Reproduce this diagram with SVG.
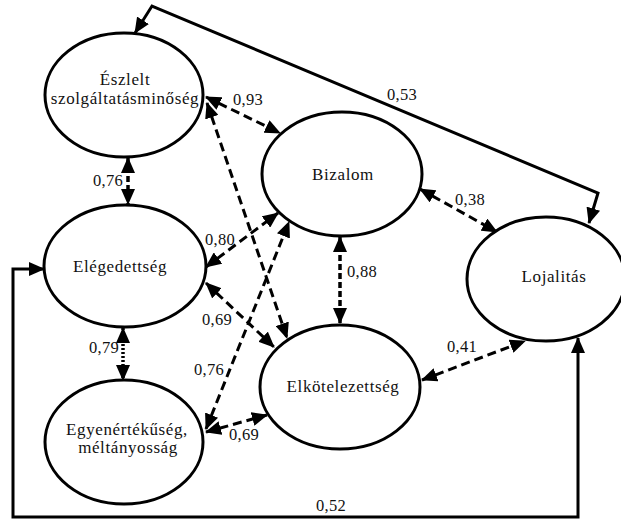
<svg xmlns="http://www.w3.org/2000/svg" width="621" height="519" viewBox="0 0 621 519">
<style>
  .node ellipse { fill: #fff; stroke: #000; stroke-width: 3; }
  .solid { fill: none; stroke: #000; stroke-width: 3; marker-start: url(#ah); marker-end: url(#ah); }
  .dash { fill: none; stroke: #000; stroke-width: 3; stroke-dasharray: 9 5; marker-start: url(#ah); marker-end: url(#ah); }
  .sdash { fill: none; stroke: #000; stroke-width: 3.5; stroke-dasharray: 6 3; marker-start: url(#ah); marker-end: url(#ah); }
  .dot { fill: none; stroke: #000; stroke-width: 3.5; stroke-dasharray: 2 2; marker-start: url(#ah); marker-end: url(#ah); }
</style>
<defs>
  <marker id="ah" markerUnits="userSpaceOnUse" markerWidth="16" markerHeight="14" refX="15" refY="7" orient="auto-start-reverse" viewBox="0 0 16 14">
    <path d="M0,0 L16,7 L0,14 z" fill="#000"/>
  </marker>
</defs>
<rect width="621" height="519" fill="#fff"/>

<g id="connectors">
  <path class="solid" d="M589,223 L598,193 L152,6 L135,33"/>
  <path class="solid" d="M44,269 L13,269 L13,517 L578,517 L578,338"/>
  <line class="dash" x1="206" y1="97" x2="280" y2="133"/>
  <line class="dash" x1="207" y1="103" x2="287" y2="338"/>
  <line class="sdash" x1="128" y1="158" x2="128" y2="204"/>
  <line class="dot" x1="123" y1="328" x2="123" y2="380"/>
  <line class="dash" x1="206" y1="267" x2="278" y2="213"/>
  <line class="dash" x1="206" y1="283" x2="274" y2="347"/>
  <line class="dash" x1="206" y1="429" x2="289" y2="222"/>
  <line class="dash" x1="206" y1="432" x2="267" y2="415"/>
  <line class="sdash" x1="340" y1="237" x2="340" y2="323"/>
  <line class="dash" x1="420" y1="189" x2="497" y2="232"/>
  <line class="dash" x1="422" y1="380" x2="525" y2="341"/>
</g>

<g id="labels" font-family="Liberation Serif, DejaVu Serif, serif" font-size="16.5" letter-spacing="0.3" fill="#111">
  <text x="387" y="100">0,53</text>
  <text x="233" y="105">0,93</text>
  <text x="93" y="186">0,76</text>
  <text x="455" y="205">0,38</text>
  <text x="205" y="245">0,80</text>
  <text x="347" y="277">0,88</text>
  <text x="202" y="325">0,69</text>
  <text x="89" y="353">0,79</text>
  <text x="447" y="352">0,41</text>
  <text x="194" y="375">0,76</text>
  <text x="229" y="440">0,69</text>
  <text x="316" y="511">0,52</text>
</g>

<g font-family="Liberation Serif, DejaVu Serif, serif" font-size="17" letter-spacing="0.6" fill="#111" text-anchor="middle">
<g id="n-eszlelt" class="node">
  <ellipse cx="124" cy="95" rx="79" ry="62"/>
  <text x="125" y="85">Észlelt</text>
  <text x="125" y="104">szolgáltatásminőség</text>
</g>
<g id="n-bizalom" class="node">
  <ellipse cx="342" cy="174" rx="80" ry="62"/>
  <text x="343" y="180">Bizalom</text>
</g>
<g id="n-elegedettseg" class="node">
  <ellipse cx="125" cy="266" rx="81" ry="61"/>
  <text x="120" y="272">Elégedettség</text>
</g>
<g id="n-egyenertekuseg" class="node">
  <ellipse cx="124" cy="442" rx="79" ry="62"/>
  <text x="127" y="435">Egyenértékűség,</text>
  <text x="128" y="453">méltányosság</text>
</g>
<g id="n-elkotelezettseg" class="node">
  <ellipse cx="340" cy="387" rx="80" ry="62"/>
  <text x="343" y="392">Elkötelezettség</text>
</g>
<g id="n-lojalitas" class="node">
  <ellipse cx="546" cy="279" rx="79" ry="62"/>
  <text x="554" y="282">Lojalitás</text>
</g>
</g>
</svg>
